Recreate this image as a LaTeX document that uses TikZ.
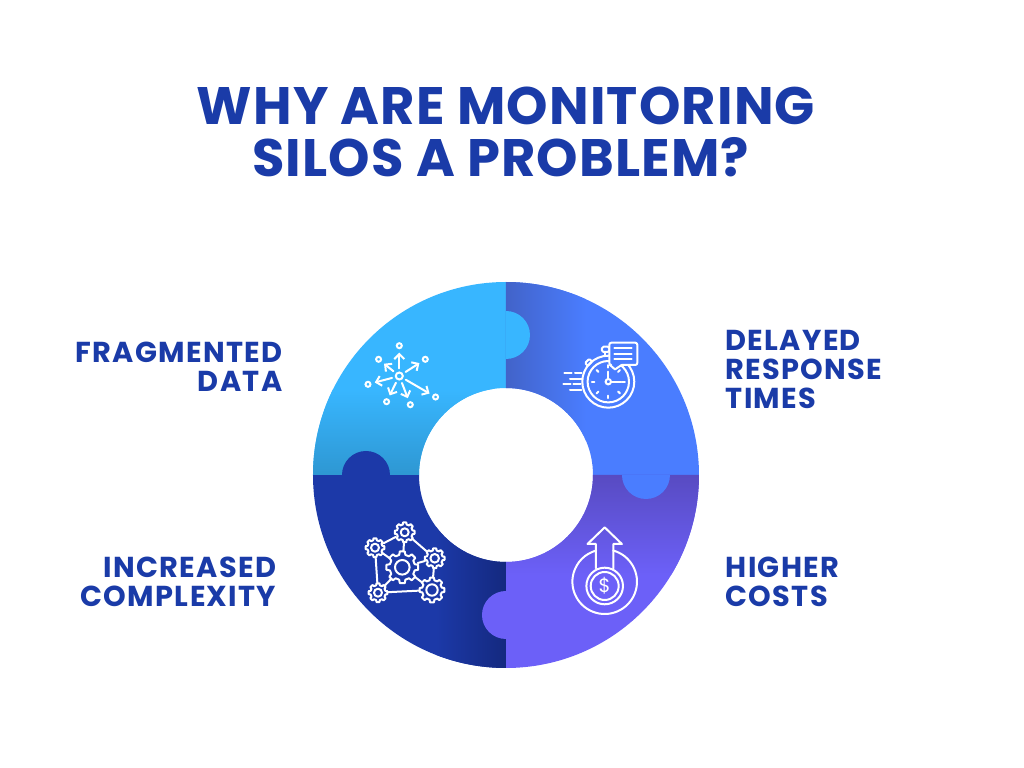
\documentclass[tikz,border=0pt]{standalone}
\usepackage{fontspec}
\setmainfont{Poppins}
\usetikzlibrary{arrows.meta}

\definecolor{titleblue}{HTML}{1A3BA8}
\definecolor{skyblue}{HTML}{38B6FF}
\definecolor{skydark}{HTML}{2E97D2}
\definecolor{midblue}{HTML}{4A7DFF}
\definecolor{middark}{HTML}{4263C9}
\definecolor{violet}{HTML}{6C60F8}
\definecolor{violetdark}{HTML}{584BC2}
\definecolor{navy}{HTML}{1C39A8}
\definecolor{navydark}{HTML}{14297F}

\tikzset{
    itemlabel/.style={text=titleblue,inner sep=0pt,font=\fontsize{8.2}{8.25}\selectfont\bfseries\addfontfeatures{LetterSpace=4.5}},
    iconline/.style={draw=white,line width=0.02cm,line join=round,line cap=round},
    satring/.style={circle,draw=white,line width=0.02cm,minimum size=0.05cm,inner sep=0pt},
    hubring/.style={circle,draw=white,line width=0.02cm,minimum size=0.07cm,inner sep=0pt},
    gearhub/.style={circle,minimum size=#1cm,inner sep=0pt,outer sep=0pt}
}

\newcommand{\ringsector}[2]{
    (#1:0.87) -- (#1:1.93) arc[start angle=#1,end angle=#2,radius=1.93]
    -- (#2:0.87) arc[start angle=#2,end angle=#1,radius=0.87] -- cycle
}

\newcommand{\gearnode}[6]{
    \node[gearhub=#5] (#1) at (#2,#3) {};
    \draw[iconline,shift={(#2,#3)}] (-14:#4*0.8)
        foreach \a in {0,45,...,315} {
            -- ({\a-14}:#4*0.8) -- ({\a-9}:#4) -- ({\a+9}:#4) -- ({\a+14}:#4*0.8)
        } -- cycle;
    \draw[iconline] (#2,#3) circle[radius=#6];
}

\begin{document}
\begin{tikzpicture}
    \path[fill=white,use as bounding box] (-5.06,-2.93) rectangle (5.18,4.75);

    \node[text=titleblue,align=center,font=\fontsize{15}{15}\selectfont\bfseries\addfontfeatures{LetterSpace=2.2}] (title) at (0,3.43)
        {WHY ARE MONITORING\\SILOS A PROBLEM?\hspace*{0.2em}};

    \begin{scope}
        \clip \ringsector{90}{180};
        \fill[skyblue] (-2,0) rectangle (0,2);
        \shade[top color=skyblue,bottom color=skydark] (-2,0) rectangle (0,0.85);
    \end{scope}
    \begin{scope}
        \clip \ringsector{0}{90};
        \fill[midblue] (0,0) rectangle (2,2);
        \shade[left color=middark,right color=midblue] (0,0) rectangle (0.8,2);
    \end{scope}
    \begin{scope}
        \clip \ringsector{270}{360};
        \fill[violet] (0,-2) rectangle (2,0);
        \shade[top color=violetdark,bottom color=violet] (0,-1) rectangle (2,0);
    \end{scope}
    \begin{scope}
        \clip \ringsector{180}{270};
        \fill[navy] (-2,-2) rectangle (0,0);
        \shade[left color=navy,right color=navydark] (-0.7,-2) rectangle (0,0);
    \end{scope}

    \fill[skyblue] (0,1.64) arc[start angle=90,end angle=-90,radius=0.24] -- cycle;
    \fill[midblue] (1.64,0) arc[start angle=0,end angle=-180,radius=0.24] -- cycle;
    \fill[violet] (0,-1.16) arc[start angle=90,end angle=270,radius=0.24] -- cycle;
    \fill[navy] (-1.64,0) arc[start angle=180,end angle=0,radius=0.24] -- cycle;

    \node[itemlabel,align=right,anchor=east] (fragmented) at (-2.23,1.08) {FRAGMENTED\\DATA};
    \node[itemlabel,align=left,anchor=west] (delayed) at (2.19,1.06) {DELAYED\\RESPONSE\\TIMES};
    \node[itemlabel,align=right,anchor=east] (increased) at (-2.29,-1.07) {INCREASED\\COMPLEXITY};
    \node[itemlabel,align=left,anchor=west] (higher) at (2.19,-1.07) {HIGHER\\COSTS};

    % scattered data
    \begin{scope}[shift={(-1.067,0.99)}]
        \node[hubring] (hub) at (0,0) {};
        \foreach \sx/\sy/\sname in {0/0.303/a,-0.207/0.167/b,0.26/0.167/c,-0.313/-0.083/d,
                                    -0.127/-0.257/e,0.11/-0.287/f,0.363/-0.21/g} {
            \node[satring] (sat\sname) at (\sx,\sy) {};
            \draw[iconline,-{Straight Barb[length=0.05cm,width=0.1cm]},shorten <=0.03cm,shorten >=0.035cm]
                (hub) -- (sat\sname);
        }
    \end{scope}

    % stopwatch
    \begin{scope}[shift={(1.023,0.933)}]
        \draw[iconline,rounded corners=0.015cm] (-0.063,0.297) rectangle (0.01,0.35);
        \draw[iconline] (-0.03,0.297) -- (-0.03,0.26);
        \draw[iconline,rounded corners=0.01cm,rotate around={45:(-0.197,0.193)}]
            (-0.227,0.173) rectangle (-0.167,0.213);
        \draw[iconline] (0,0) circle[radius=0.26];
        \draw[iconline] (0,0) circle[radius=0.207];
        \foreach \a in {0,45,...,315} {
            \draw[iconline] (\a:0.14) -- (\a:0.165);
        }
        \draw[iconline] (0,0.03) -- (0,0.1);
        \draw[iconline] (0.03,0) -- (0.13,0);
        \draw[iconline] (0,0) circle[radius=0.027];
        \draw[iconline,fill=midblue,rounded corners=0.02cm]
            (0.017,0.167) -- (0.01,0.167) -- (0.01,0.39) -- (0.29,0.39) -- (0.29,0.167) -- (0.133,0.167);
        \draw[iconline,fill=midblue] (0.017,0.167) -- (0.067,0.123) -- (0.133,0.167);
        \foreach \ly in {0.333,0.277,0.223} {
            \draw[iconline] (0.06,\ly) -- (0.233,\ly);
        }
        \foreach \xa/\xb/\ly in {-0.44/-0.367/0.083,-0.333/-0.267/0.083,-0.383/-0.267/0.027,
                                 -0.45/-0.377/-0.027,-0.35/-0.277/-0.027,-0.383/-0.27/-0.083} {
            \draw[iconline] (\xa,\ly) -- (\xb,\ly);
        }
    \end{scope}

    % gears
    \gearnode{gearmain}{-1.037}{-0.923}{0.16}{0.32}{0.073}
    \gearnode{geartop}{-1.013}{-0.573}{0.10}{0.2}{0.04}
    \gearnode{gearleft}{-1.31}{-0.727}{0.095}{0.19}{0.04}
    \gearnode{gearright}{-0.713}{-0.833}{0.10}{0.2}{0.043}
    \gearnode{gearlow}{-1.28}{-1.177}{0.095}{0.19}{0.04}
    \gearnode{gearcorner}{-0.74}{-1.15}{0.125}{0.25}{0.057}
    \foreach \ga/\gb in {geartop/gearleft,geartop/gearright,gearright/gearcorner,gearcorner/gearlow,
                         gearlow/gearleft,gearmain/geartop,gearmain/gearleft,gearmain/gearright,
                         gearmain/gearcorner,gearmain/gearlow} {
        \draw[iconline] (\ga) -- (\gb);
    }

    % rising cost
    \begin{scope}[shift={(0.987,-1.067)}]
        \draw[iconline] (74.5:0.323) arc[start angle=74.5,end angle=-254.5,radius=0.323];
        \draw[iconline] (-0.087,0.133) -- (-0.087,0.377) -- (-0.172,0.377) -- (0,0.543)
            -- (0.172,0.377) -- (0.087,0.377) -- (0.087,0.133);
        \draw[iconline] (0,-0.043) circle[radius=0.183];
        \draw[iconline] (0,-0.043) circle[radius=0.14];
        \node[text=white,font=\fontsize{5.5}{5.5}\selectfont] (dollar) at (0,-0.043) {\$};
    \end{scope}
\end{tikzpicture}
\end{document}
